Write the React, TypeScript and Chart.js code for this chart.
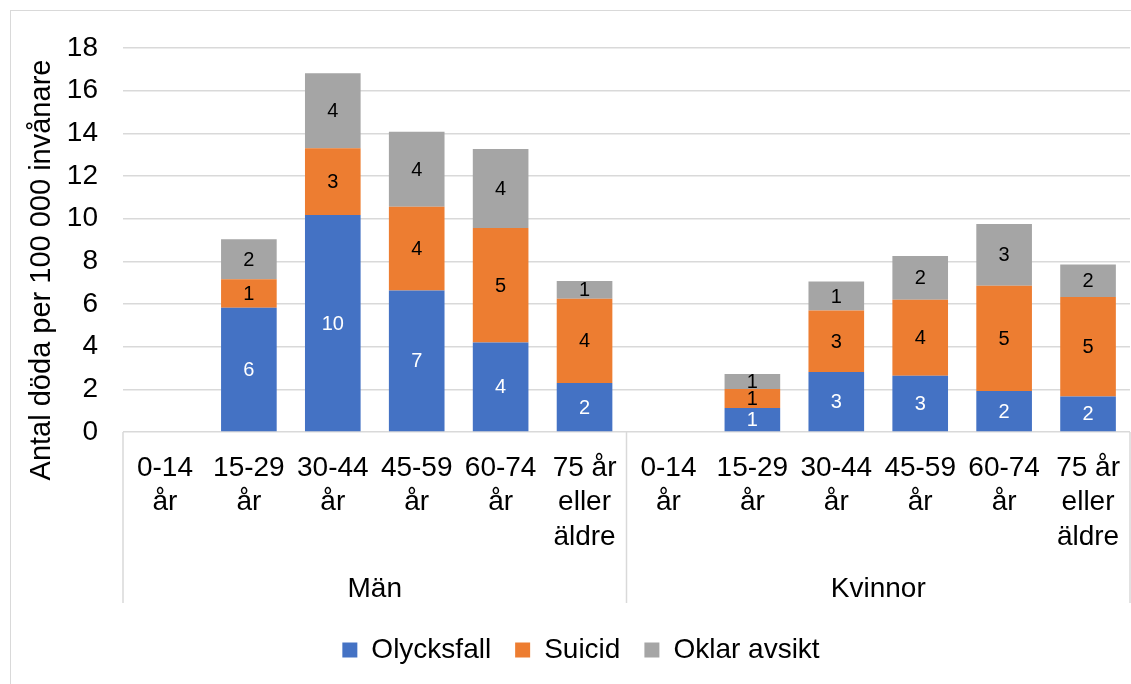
import React, { useEffect, useRef } from 'react';
import { Chart, registerables } from 'chart.js';

Chart.register(...registerables);

// ---- Data ----
const ageGroups: string[][] = [
  ['0-14', 'år'],
  ['15-29', 'år'],
  ['30-44', 'år'],
  ['45-59', 'år'],
  ['60-74', 'år'],
  ['75 år', 'eller', 'äldre'],
];
const genderGroups = ['Män', 'Kvinnor'];
const categories = [...ageGroups, ...ageGroups];

const seriesNames = ['Olycksfall', 'Suicid', 'Oklar avsikt'];
const olycksfall = [0, 5.83, 10.17, 6.63, 4.19, 2.3, 0, 1.13, 2.81, 2.64, 1.92, 1.66];
const suicid = [0, 1.33, 3.13, 3.93, 5.37, 3.95, 0, 0.89, 2.88, 3.56, 4.94, 4.67];
const oklarAvsikt = [0, 1.87, 3.52, 3.52, 3.71, 0.83, 0, 0.7, 1.36, 2.05, 2.89, 1.52];

const yMin = 0;
const yMax = 18;
const yStep = 2;
const yTitle = 'Antal döda per 100 000 invånare';

const colors = ['#4472C4', '#ED7D31', '#A5A5A5'];
const labelColors = ['#ffffff', '#000000', '#000000'];

const FONT = '"Liberation Sans", Arial, sans-serif';

const overlayPlugin = {
  id: 'overlay',
  afterDatasetsDraw(chart: any) {
    const ctx = chart.ctx;
    ctx.save();
    ctx.font = `20px ${FONT}`;
    ctx.textAlign = 'center';
    ctx.textBaseline = 'middle';
    chart.data.datasets.forEach((ds: any, di: number) => {
      const meta = chart.getDatasetMeta(di);
      meta.data.forEach((el: any, i: number) => {
        const v = ds.data[i];
        if (!v) return;
        ctx.fillStyle = labelColors[di];
        ctx.fillText(String(Math.round(v)), el.x, (el.y + el.base) / 2 + 1);
      });
    });
    ctx.restore();
  },
  afterDraw(chart: any) {
    const ctx = chart.ctx;
    const area = chart.chartArea;
    const xs = chart.scales.x;
    const half = ageGroups.length;
    const left = xs.left;
    const right = xs.right;
    const mid = (xs.getPixelForValue(half - 1) + xs.getPixelForValue(half)) / 2;
    const bottom = area.bottom + 171;
    ctx.save();
    ctx.strokeStyle = '#d9d9d9';
    ctx.lineWidth = 1.5;
    [left, mid, right].forEach((x) => {
      ctx.beginPath();
      ctx.moveTo(x, area.bottom);
      ctx.lineTo(x, bottom);
      ctx.stroke();
    });
    ctx.fillStyle = '#000';
    ctx.font = `28px ${FONT}`;
    ctx.textAlign = 'center';
    ctx.textBaseline = 'middle';
    ctx.fillText(genderGroups[0], (left + mid) / 2, area.bottom + 157);
    ctx.fillText(genderGroups[1], (mid + right) / 2, area.bottom + 157);

    // y-axis title
    ctx.save();
    ctx.translate(42, 270);
    ctx.rotate(-Math.PI / 2);
    ctx.font = `29px ${FONT}`;
    ctx.fillText(yTitle, 0, 0);
    ctx.restore();
    ctx.restore();
  },
};

export default function App() {
  const ref = useRef<HTMLCanvasElement | null>(null);

  useEffect(() => {
    if (!ref.current) return;
    Chart.defaults.font.family = FONT;
    const seriesData = [olycksfall, suicid, oklarAvsikt];
    const chart = new Chart(ref.current, {
      type: 'bar',
      data: {
        labels: categories as any,
        datasets: seriesNames.map((name, i) => ({
          label: name,
          data: seriesData[i],
          backgroundColor: colors[i],
          borderWidth: 0,
          categoryPercentage: 1,
          barPercentage: 0.663,
        })),
      },
      options: {
        responsive: false,
        animation: false,
        layout: { padding: { left: 32, right: 1, top: 48, bottom: 10 } },
        plugins: {
          legend: {
            position: 'bottom',
            labels: {
              font: { size: 28, family: FONT },
              color: '#000',
              boxWidth: 15,
              boxHeight: 15,
              padding: 24,
            },
          },
          tooltip: { enabled: false },
          title: { display: false },
        },
        scales: {
          x: {
            stacked: true,
            grid: { display: false, drawTicks: false },
            border: { display: false },
            ticks: {
              font: { size: 28, family: FONT, lineHeight: 1.23 },
              color: '#000',
              padding: 19,
              maxRotation: 0,
              autoSkip: false,
            },
            afterFit: (scale: any) => {
              scale.height = 180;
              scale.paddingLeft = 0;
              scale.paddingRight = 0;
            },
          },
          y: {
            stacked: true,
            min: yMin,
            max: yMax,
            grid: { color: '#d9d9d9', lineWidth: 1.5, drawTicks: false },
            border: { display: false },
            ticks: {
              stepSize: yStep,
              font: { size: 28, family: FONT },
              color: '#000',
              padding: 25,
            },
            afterFit: (scale: any) => {
              scale.width = 91;
            },
          },
        },
      },
      plugins: [overlayPlugin],
    });
    return () => chart.destroy();
  }, []);

  return (
    <div
      style={{
        position: 'fixed',
        left: 0,
        top: 0,
        width: 1131,
        height: 684,
        background: '#fff',
        overflow: 'hidden',
      }}
    >
      <div
        style={{
          position: 'absolute',
          left: 9.5,
          top: 9.5,
          width: 1300,
          height: 900,
          border: '1.5px solid #d9d9d9',
        }}
      />
      <canvas ref={ref} width={1131} height={684} style={{ position: 'absolute', left: 0, top: 0 }} />
    </div>
  );
}
